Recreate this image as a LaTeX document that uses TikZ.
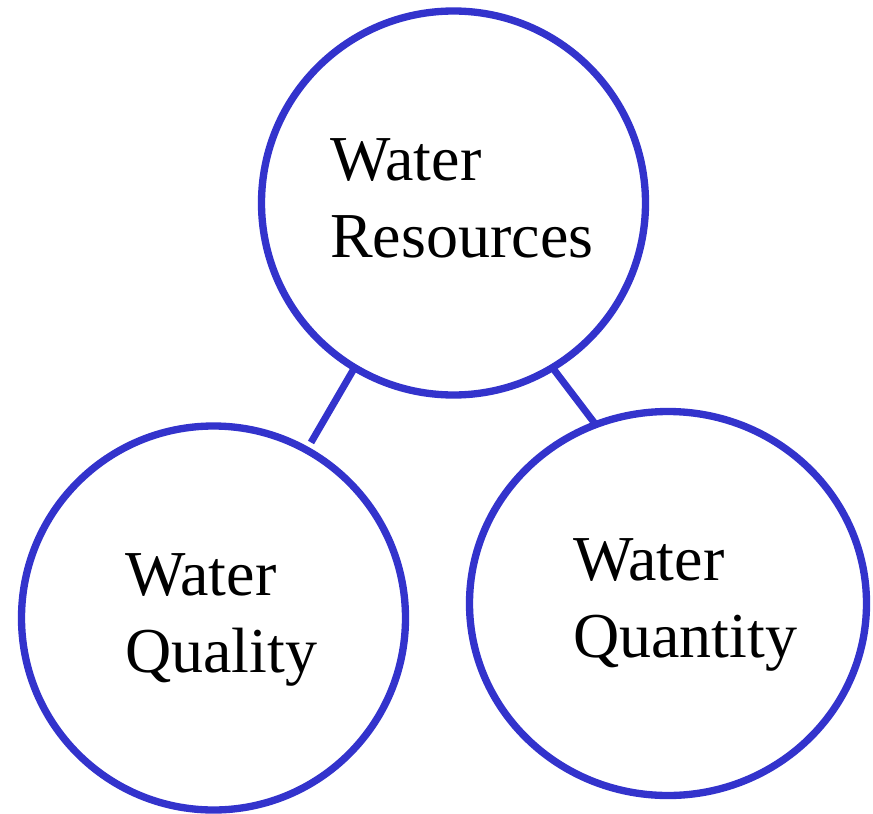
\documentclass[tikz,border=0pt]{standalone}
\usepackage{fontspec}
\setmainfont{Liberation Serif}
\usetikzlibrary{shapes.geometric}
\definecolor{ringblue}{RGB}{51,51,204}

\begin{document}
\begin{tikzpicture}[x=0.75pt,y=0.75pt,yscale=-1,xscale=1,
  ring/.style={draw=ringblue, line width=5.5pt, outer sep=0pt, inner sep=0pt},
  link/.style={draw=ringblue, line width=5.25pt},
  words/.style={anchor=base west, align=left, inner sep=0pt, font=\fontsize{48}{57.75}\selectfont}]
\useasboundingbox (0,0) rectangle (873,813);

% Circle Node
\node [ring, circle, minimum size=288pt] (res) at (453.5,203) {};
% Circle Node
\node [ring, circle, minimum size=288pt] (qual) at (213.5,618) {};
% Ellipse Node
\node [ring, ellipse, minimum width=297.75pt, minimum height=288pt] (quant) at (668,603.5) {};

% Text Node (base = last line)
\node [words] (restxt) at (330,257) {Water\\Resources};
% Text Node
\node [words] (qualtxt) at (125,672) {Water\\Quality};
% Text Node
\node [words] (quanttxt) at (573,657) {Water\\Quantity};

% Connection
\draw [link, shorten >=6.6pt] (res.239.5) -- (qual.61.5);
% Connection
\draw [link] (res.301) -- (quant.112);

\end{tikzpicture}
\end{document}
